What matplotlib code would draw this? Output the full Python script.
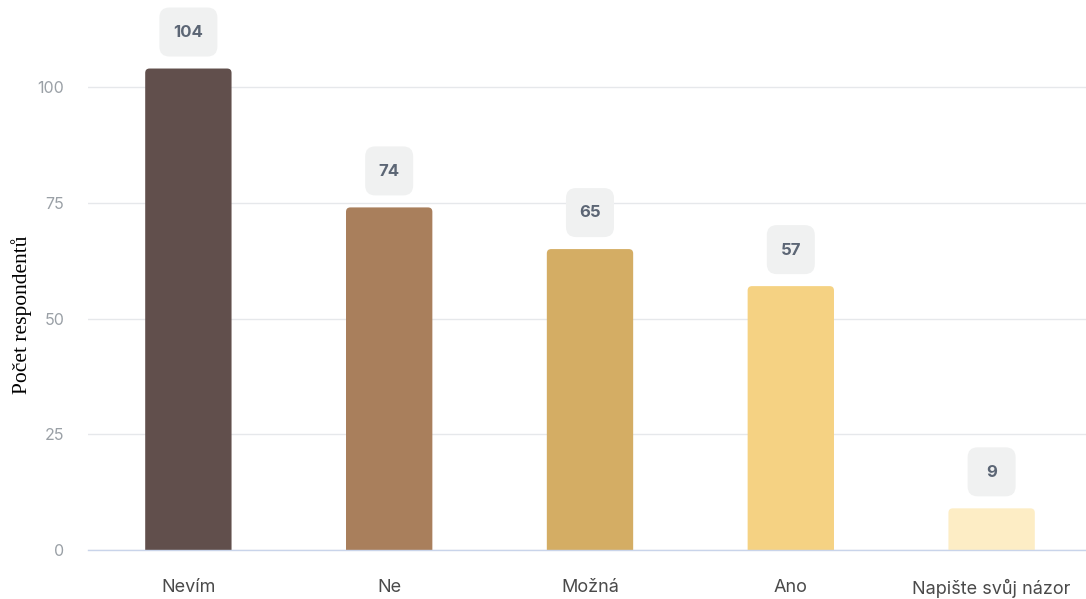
import matplotlib.pyplot as plt
from matplotlib.patches import FancyBboxPatch
from matplotlib.transforms import ScaledTranslation

categories = ['Nevím', 'Ne', 'Možná', 'Ano', 'Napište svůj názor']
counts = [104, 74, 65, 57, 9]
colors = ['#614f4c', '#a97f5c', '#d4ad64', '#f5d283', '#fdedc5']
y_ticks = [0, 25, 50, 75, 100]

plt.rcParams['font.family'] = ['Inter', 'DejaVu Sans']

fig = plt.figure(figsize=(10.86, 5.99), dpi=100)
ax = fig.add_axes([0.081, 0.0818, 0.919, 0.9182])

bar_w = 0.43
ax.set_xlim(-0.5, 4.47)
ax.set_ylim(0, 118.8)

# rounded bars: start below zero so the bottom corners get clipped
for i, (val, col) in enumerate(zip(counts, colors)):
    bar = FancyBboxPatch((i - bar_w / 2, -3), bar_w, val + 3,
                         boxstyle='round,pad=0,rounding_size=0.022',
                         mutation_aspect=43, facecolor=col, edgecolor='none',
                         zorder=3)
    ax.add_patch(bar)

    # value label in a light grey rounded box (size in inches)
    label = str(val)
    bw = 0.48 if len(label) <= 2 else 0.58
    tr = fig.dpi_scale_trans + ScaledTranslation(i, val, ax.transData)
    box = FancyBboxPatch((-bw / 2, 0.12), bw, 0.49,
                         boxstyle='round,pad=0,rounding_size=0.1',
                         facecolor='#f0f1f1', edgecolor='none',
                         transform=tr, clip_on=False, zorder=4)
    ax.add_patch(box)
    ax.annotate(label, (i, val), xytext=(0, 26), textcoords='offset points',
                ha='center', va='center', fontsize=12, fontweight='bold',
                color='#5c6675', zorder=5)

ax.set_yticks(y_ticks)
ax.set_xticks(range(len(categories)))
ax.set_xticklabels(categories, fontsize=13, color='#4a4a4a')
ax.tick_params(axis='y', length=0, pad=17, labelsize=11.5, labelcolor='#9aa0a6')
ax.tick_params(axis='x', length=0, pad=21)
ax.grid(axis='y', color='#e6e8eb', linewidth=1, zorder=0)

for side in ['top', 'right', 'left']:
    ax.spines[side].set_visible(False)
ax.spines['bottom'].set_color('#c9d4ea')
ax.spines['bottom'].set_linewidth(1)
ax.spines['bottom'].set_zorder(4)

fig.text(0.02, 0.475, 'Počet respondentů', rotation=90, ha='center', va='center',
         fontsize=15.5, family='Liberation Serif', color='black')

fig.savefig('out.png', dpi=100)
